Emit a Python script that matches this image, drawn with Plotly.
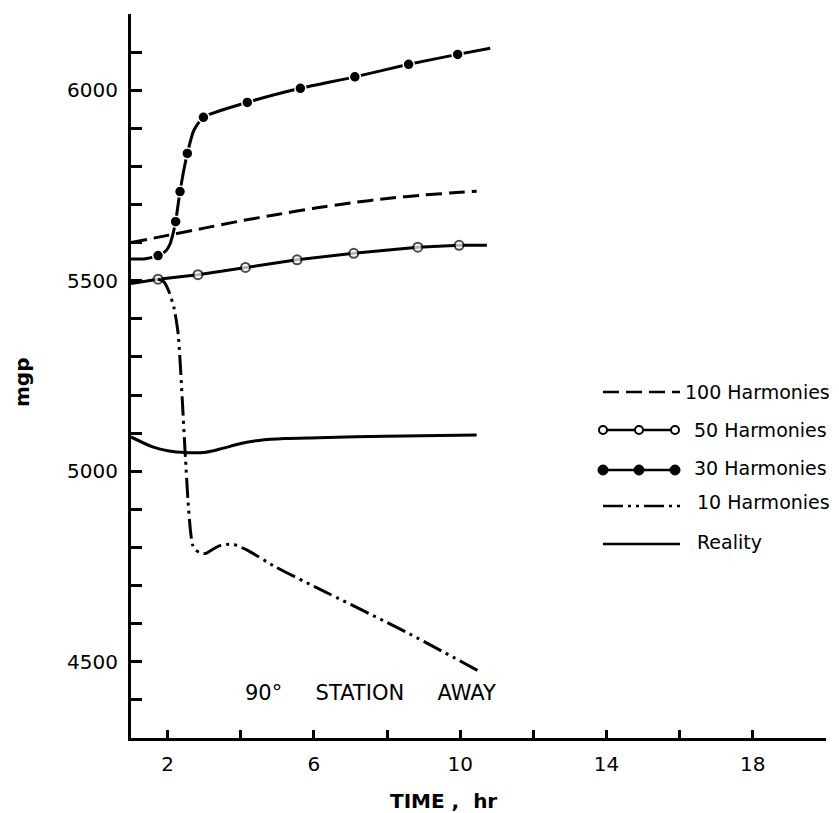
import plotly.graph_objects as go

# ---------------- data ----------------
x100 = [1.0, 2.0, 3.0, 4.0, 5.0, 6.0, 7.0, 8.0, 9.0, 10.0, 10.45]
y100 = [5600, 5619, 5638, 5657, 5674, 5690, 5704, 5716, 5725, 5732, 5735]

x50 = [1.0, 1.74, 2.83, 4.13, 5.54, 7.09, 8.84, 9.97, 10.73]
y50 = [5493, 5504, 5516, 5535, 5555, 5572, 5588, 5593, 5593]
m50 = [0, 9, 9, 9, 9, 9, 9, 9, 0]   # marker present at the plotted points only

x30_curve = [1.0, 1.4, 1.74, 1.95, 2.06, 2.14, 2.22, 2.34, 2.54, 2.72, 2.98,
             4.18, 5.63, 7.12, 8.59, 9.93, 10.82]
y30_curve = [5557, 5558, 5566, 5578, 5595, 5620, 5655, 5734, 5834, 5895, 5929,
             5968, 6005, 6035, 6068, 6094, 6110]
x30_dots = [1.74, 2.22, 2.34, 2.54, 2.98, 4.18, 5.63, 7.12, 8.59, 9.93]
y30_dots = [5566, 5655, 5734, 5834, 5929, 5968, 6005, 6035, 6068, 6094]

x10 = [1.74, 1.9, 2.04, 2.18, 2.29, 2.40, 2.48, 2.56, 2.63, 2.68, 2.77, 2.9,
       3.04, 3.2, 3.41, 3.6, 3.81, 4.18, 4.95, 6.13, 8.5, 10.5]
y10 = [5504, 5497, 5471, 5427, 5360, 5191, 5049, 4920, 4840, 4808, 4793, 4786,
       4784, 4793, 4804, 4808, 4808, 4793, 4749, 4692, 4579, 4476]

x_real = [1.0, 1.59, 2.0, 2.48, 3.04, 3.5, 4.0, 4.5, 5.2, 6.13, 7.95, 10.45]
y_real = [5090, 5064, 5054, 5049, 5050, 5060, 5073, 5081, 5086, 5088, 5092, 5095]

x_tickvals = [2, 4, 6, 8, 10, 12, 14, 16, 18, 20]
x_ticktext = ["2", "", "6", "", "10", "", "14", "", "18", ""]
y_tickvals = list(range(4300, 6201, 100))
y_ticktext = [str(v) if v % 500 == 0 else "" for v in y_tickvals]

series_names = ["100 Harmonies", "50 Harmonies", "30 Harmonies", "10 Harmonies", "Reality"]

# ---------------- styling ----------------
FONT = "DejaVu Sans"
W, H = 839, 813
ML, MR, MT, MB = 131, 13, 14, 75
PW, PH = W - ML - MR, H - MT - MB
LW = 3
DASH100 = "16px,7px"
DASH10 = "20px,5px,3px,5px,3px,5px"

fig = go.Figure()

fig.add_trace(go.Scatter(x=x100, y=y100, mode="lines", name=series_names[0],
                         line=dict(color="black", width=LW, dash=DASH100, shape="spline", smoothing=0.6)))
fig.add_trace(go.Scatter(x=x50, y=y50, mode="lines+markers", name=series_names[1],
                         line=dict(color="black", width=LW),
                         marker=dict(size=m50, color="white", symbol="circle",
                                     line=dict(color="black", width=2))))
fig.add_trace(go.Scatter(x=x30_curve, y=y30_curve, mode="lines", name=series_names[2],
                         line=dict(color="black", width=LW, shape="spline", smoothing=0.6)))
fig.add_trace(go.Scatter(x=x30_dots, y=y30_dots, mode="markers", name=series_names[2],
                         marker=dict(size=11, color="black", line=dict(color="white", width=1.5))))
fig.add_trace(go.Scatter(x=x10, y=y10, mode="lines", name=series_names[3],
                         line=dict(color="black", width=LW, dash=DASH10, shape="spline", smoothing=0.6)))
fig.add_trace(go.Scatter(x=x_real, y=y_real, mode="lines", name=series_names[4],
                         line=dict(color="black", width=LW, shape="spline", smoothing=0.8)))


def px(xp):
    return (xp - ML) / PW


def py(yp):
    return (H - MB - yp) / PH


shapes = []
annotations = []

# legend keys (drawn by hand to match the original key style)
key_x0, key_x1 = 603, 680
key_rows = [392, 430, 470, 506, 544]
key_text_x = [683, 692, 692, 695, 695]
key_text_y = [392, 430, 468, 502, 542]
key_dashes = [DASH100, "solid", "solid", DASH10, "solid"]

for i, name in enumerate(series_names):
    yr = key_rows[i]
    x1 = 675 if i in (1, 2) else key_x1
    shapes.append(dict(type="line", xref="paper", yref="paper",
                       x0=px(key_x0), x1=px(x1), y0=py(yr), y1=py(yr),
                       line=dict(color="black", width=2.5, dash=key_dashes[i]), layer="above"))
    if i in (1, 2):
        r = 4 if i == 1 else 5
        for cx in (603, 639, 675):
            shapes.append(dict(type="circle", xref="paper", yref="paper",
                               x0=px(cx - r), x1=px(cx + r), y0=py(yr + r), y1=py(yr - r),
                               fillcolor="white" if i == 1 else "black",
                               line=dict(color="black", width=2 if i == 1 else 1), layer="above"))
    annotations.append(dict(xref="paper", yref="paper", x=px(key_text_x[i]), y=py(key_text_y[i]),
                            text=name, showarrow=False, xanchor="left", yanchor="middle",
                            font=dict(family=FONT, size=19, color="black")))

annotations.append(dict(xref="paper", yref="paper", x=px(243), y=py(693),
                        text="90°" + "\u00a0" * 5 + "STATION" + "\u00a0" * 5 + "AWAY",
                        showarrow=False, xanchor="left", yanchor="middle",
                        font=dict(family=FONT, size=21, color="black")))
annotations.append(dict(xref="paper", yref="paper", x=px(443), y=py(801),
                        text="<b>TIME , \u00a0hr</b>", showarrow=False, xanchor="center", yanchor="middle",
                        font=dict(family=FONT, size=20, color="black")))
annotations.append(dict(xref="paper", yref="paper", x=px(22), y=py(383),
                        text="<b>mgp</b>", showarrow=False, textangle=-90,
                        xanchor="center", yanchor="middle",
                        font=dict(family=FONT, size=20, color="black")))

fig.update_layout(
    width=W, height=H,
    margin=dict(l=ML, r=MR, t=MT, b=MB, pad=0),
    paper_bgcolor="white", plot_bgcolor="white",
    showlegend=False,
    shapes=shapes, annotations=annotations,
    font=dict(family=FONT, size=20, color="black"),
    xaxis=dict(range=[1, 20], showgrid=False, zeroline=False, showline=True,
               linecolor="black", linewidth=3, ticks="inside", ticklen=8, tickwidth=2.5,
               tickcolor="black", tickvals=x_tickvals, ticktext=x_ticktext,
               tickfont=dict(family=FONT, size=20, color="black"), ticklabelstandoff=6),
    yaxis=dict(range=[4300, 6200], showgrid=False, zeroline=False, showline=True,
               linecolor="black", linewidth=3, ticks="inside", ticklen=11, tickwidth=2.5,
               tickcolor="black", tickvals=y_tickvals, ticktext=y_ticktext,
               tickfont=dict(family=FONT, size=20, color="black"), ticklabelstandoff=6),
)

fig.write_html("out.html")
